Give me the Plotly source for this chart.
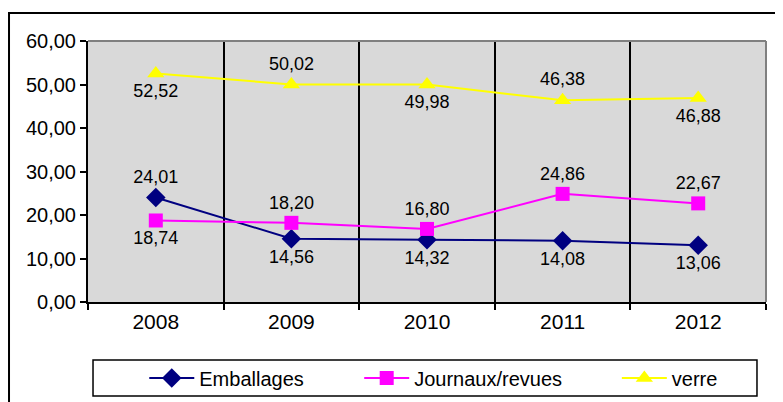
import plotly.graph_objects as go

years = ["2008", "2009", "2010", "2011", "2012"]
emballages = [24.01, 14.56, 14.32, 14.08, 13.06]
journaux = [18.74, 18.20, 16.80, 24.86, 22.67]
verre = [52.52, 50.02, 49.98, 46.38, 46.88]

emb_pos = ["top center", "bottom center", "bottom center", "bottom center", "bottom center"]
jou_pos = ["bottom center", "top center", "top center", "top center", "top center"]
ver_pos = ["bottom center", "top center", "bottom center", "top center", "bottom center"]

font_main = "Liberation Sans"


def labels(vals):
    return [f"{v:.2f}".replace(".", ",") for v in vals]


fig = go.Figure()
fig.add_trace(go.Scatter(
    x=years, y=emballages, name="Emballages", mode="lines+markers+text",
    line=dict(color="#000080", width=2),
    marker=dict(symbol="diamond", size=15, color="#000080"),
    text=labels(emballages), textposition=emb_pos,
    textfont=dict(size=18, color="black"), legend="legend",
))
fig.add_trace(go.Scatter(
    x=years, y=journaux, name="Journaux/revues", mode="lines+markers+text",
    line=dict(color="#ff00ff", width=2),
    marker=dict(symbol="square", size=14, color="#ff00ff"),
    text=labels(journaux), textposition=jou_pos,
    textfont=dict(size=18, color="black"), legend="legend2",
))
fig.add_trace(go.Scatter(
    x=years, y=verre, name="verre", mode="lines+markers+text",
    line=dict(color="#ffff00", width=2),
    marker=dict(symbol="triangle-up", size=15, color="#ffff00"),
    text=labels(verre), textposition=ver_pos,
    textfont=dict(size=18, color="black"), legend="legend3",
))

leg = dict(orientation="h", y=-0.291, yanchor="middle", xanchor="left",
           bgcolor="rgba(0,0,0,0)", borderwidth=0, font=dict(size=20),
           itemwidth=45)

# page body adds an 8px offset, margins are shifted to compensate
fig.update_layout(
    width=783, height=402,
    margin=dict(l=80, r=25, t=33, b=108, autoexpand=False),
    paper_bgcolor="white",
    plot_bgcolor="#d9d9d9",
    font=dict(family=font_main, size=20, color="black"),
    separators=",.",
    showlegend=True,
    legend=dict(leg, x=0.083),
    legend2=dict(leg, x=0.400),
    legend3=dict(leg, x=0.780),
)
fig.update_xaxes(
    type="category", tickson="boundaries", automargin=False,
    showgrid=True, gridcolor="black", gridwidth=1.5,
    showline=True, linecolor="black", linewidth=2,
    ticks="outside", ticklen=6, tickcolor="black", tickwidth=1.5,
    tickfont=dict(size=21),
    range=[-0.5, 4.5],
)
fig.update_yaxes(
    range=[0, 60], dtick=10, tickformat=".2f", automargin=False,
    showgrid=False, zeroline=False,
    showline=True, linecolor="black", linewidth=2,
    ticks="outside", ticklen=6, tickcolor="black", tickwidth=1.5,
    tickfont=dict(size=20),
)

# grey frame on top and right of the plot area
fig.add_shape(type="line", xref="paper", yref="paper", x0=0, x1=1, y0=1, y1=1,
              line=dict(color="#808080", width=2))
fig.add_shape(type="line", xref="paper", yref="paper", x0=1, x1=1, y0=0, y1=1,
              line=dict(color="#808080", width=2))
# legend box
fig.add_shape(type="rect", xref="paper", yref="paper",
              x0=0.0074, x1=0.9867, y0=-0.2222, y1=-0.3602,
              line=dict(color="black", width=1.5), fillcolor="white", layer="below")
# outer chart border
fig.add_shape(type="rect", xref="paper", yref="paper",
              x0=-0.1165, x1=1.2, y0=-0.6, y1=1.107,
              line=dict(color="black", width=2))

fig.write_html("out.html")
